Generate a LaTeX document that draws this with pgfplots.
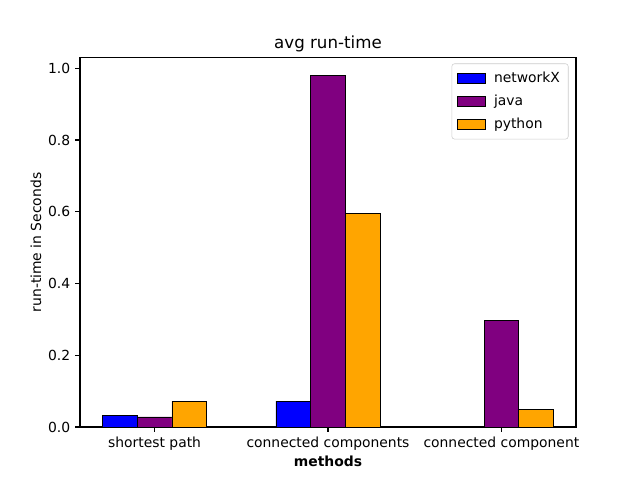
\documentclass[border=0pt]{standalone}
\usepackage{pgfplots}
\pgfplotsset{compat=1.18}
\usepackage{fontspec}
\setmainfont{DejaVu Sans}
\definecolor{nxblue}{RGB}{0,0,255}
\definecolor{javapurple}{RGB}{128,0,128}
\definecolor{pyorange}{RGB}{255,165,0}
\begin{document}
\begin{tikzpicture}
\path (-57.6pt,-38.2pt) rectangle (403.2pt,307.4pt);
\begin{axis}[
  at={(0,0)}, anchor=south west,
  scale only axis,
  width=357.1pt, height=265.7pt,
  xmin=-0.43, xmax=2.43,
  ymin=0, ymax=1.029,
  xtick={0,1,2},
  xticklabels={shortest path, connected components, connected component},
  ytick={0,0.2,0.4,0.6,0.8,1.0},
  yticklabel style={/pgf/number format/.cd, fixed, fixed zerofill, precision=1, assume math mode=true},
  xtick pos=left, ytick pos=left,
  tick align=outside,
  major tick length=3.5pt,
  tick style={black, line width=0.8pt},
  axis line style={line width=0.8pt},
  ticklabel style={font=\fontsize{10}{12}\selectfont},
  title={avg run-time},
  title style={font=\fontsize{12}{14}\selectfont, yshift=-5pt},
  xlabel={\textbf{methods}},
  ylabel={run-time in Seconds},
  label style={font=\fontsize{10}{12}\selectfont},
  xlabel style={yshift=3pt},
  ylabel style={yshift=-2pt},
  legend cell align=left,
  legend style={at={(0.985,0.985)}, anchor=north east, font=\fontsize{10}{12}\selectfont,
    draw=black!20, rounded corners=2pt, fill=white, fill opacity=0.8, text opacity=1,
    row sep=3.5pt, inner xsep=4pt, inner ysep=4pt,
    /tikz/every odd column/.append style={column sep=4pt}},
  legend image code/.code={\draw[#1, draw=black, sharp corners, fill opacity=1] (0pt,-3.5pt) rectangle (20pt,3.5pt);},
]
\addplot[ybar, bar width=0.2, bar shift=-0.2, fill=nxblue, draw=black] coordinates {(0,0.033) (1,0.072) (2,0.001)};
\addlegendentry{networkX}
\addplot[ybar, bar width=0.2, bar shift=0, fill=javapurple, draw=black] coordinates {(0,0.028) (1,0.980) (2,0.298)};
\addlegendentry{java}
\addplot[ybar, bar width=0.2, bar shift=0.2, fill=pyorange, draw=black] coordinates {(0,0.072) (1,0.596) (2,0.050)};
\addlegendentry{python}
\end{axis}
\end{tikzpicture}
\end{document}
